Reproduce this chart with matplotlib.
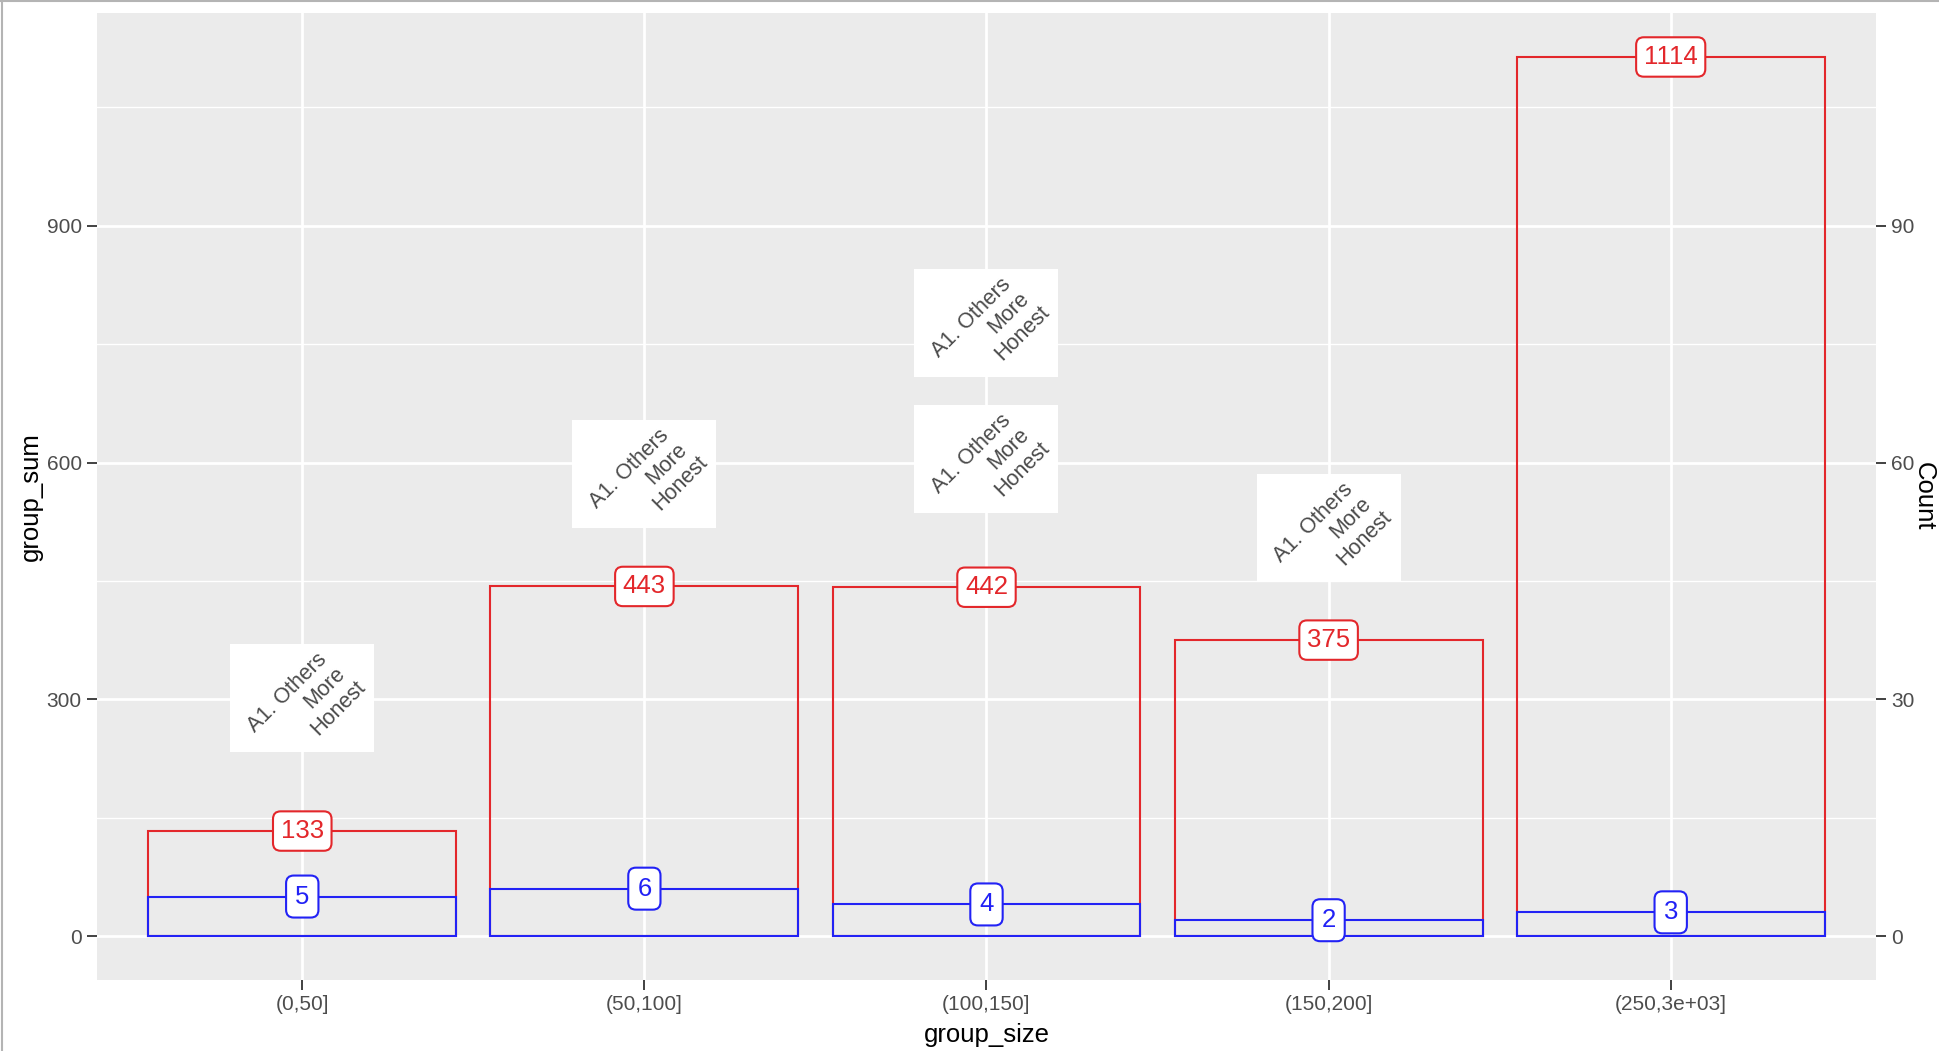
import numpy as np
import matplotlib
matplotlib.use('Agg')
import matplotlib.pyplot as plt
from matplotlib.patches import Rectangle
from matplotlib.lines import Line2D
from matplotlib.transforms import offset_copy

plt.rcParams['font.family'] = ['Liberation Sans', 'DejaVu Sans']

# данные
categories = ['(0,50]', '(50,100]', '(100,150]', '(150,200]', '(250,3e+03]']
group_sum = [133, 443, 442, 375, 1114]
counts = [5, 6, 4, 2, 3]
note_pos = [0, 1, 2, 2, 3]
note_y = [302, 586, 777, 605, 517]
note_lines = ['A1. Others', 'More', 'Honest']

scale = 10  # вторичная ось: Count * 10
red = '#E3272B'
blue = '#2222F5'

fig = plt.figure(figsize=(19.4, 10.51), dpi=100)
ax = fig.add_axes([0.05, 0.0676, 0.917, 0.92])
ax.set_facecolor('#EBEBEB')
for s in ax.spines.values():
    s.set_visible(False)

x = np.arange(len(categories))
ax.bar(x, group_sum, width=0.9, fill=False, edgecolor=red, linewidth=1.5, zorder=3)
ax.set_xlim(-0.6, len(categories) - 0.4)
ymax = max(group_sum)
ax.set_ylim(-0.05 * ymax, 1.05 * ymax)
ax.set_xticks(x)
ax.set_xticklabels(categories)
ax.set_yticks([0, 300, 600, 900])
ax.set_yticks([150, 450, 750, 1050], minor=True)
ax.grid(which='major', color='white', linewidth=2.0, zorder=0)
ax.grid(which='minor', axis='y', color='white', linewidth=1.0, zorder=0)
ax.set_axisbelow(True)
ax.tick_params(axis='both', which='major', length=7, width=1.3, color='#333333',
               labelcolor='#4D4D4D', labelsize=15, pad=4)
ax.tick_params(axis='y', which='minor', length=0)
ax.set_xlabel('group_size', fontsize=18.5, labelpad=6)
ax.set_ylabel('group_sum', fontsize=18.5, labelpad=3)

for xi, v in zip(x, group_sum):
    ax.text(xi, v, str(v), ha='center', va='center', fontsize=18.5, color=red, zorder=6,
            bbox=dict(boxstyle='round,pad=0.3,rounding_size=0.3', facecolor='white',
                      edgecolor=red, linewidth=1.5))

# вторичная ось
ax2 = ax.twinx()
for s in ax2.spines.values():
    s.set_visible(False)
ax2.set_ylim(ax.get_ylim()[0] / scale, ax.get_ylim()[1] / scale)
ax2.bar(x, counts, width=0.9, fill=False, edgecolor=blue, linewidth=1.5, zorder=4)
ax2.set_yticks([0, 30, 60, 90])
ax2.tick_params(axis='y', length=7, width=1.3, color='#333333', labelcolor='#4D4D4D',
                labelsize=15, pad=4)
ax2.set_ylabel('Count', fontsize=18.5, rotation=-90, labelpad=15, va='top')
for xi, c in zip(x, counts):
    ax2.text(xi, c, str(c), ha='center', va='center', fontsize=18.5, color=blue, zorder=6,
             bbox=dict(boxstyle='round,pad=0.35,rounding_size=0.3', facecolor='white',
                       edgecolor=blue, linewidth=1.5))

# повёрнутые подписи на белом фоне (смещения строк в пикселях)
line_off = [(-15, 5), (22, 10), (36, -10)]
box_w, box_h = 144, 108
fig.canvas.draw()
inv = ax2.transData.inverted()
for xi, yi in zip(note_pos, note_y):
    cx, cy = ax2.transData.transform((xi, yi / scale))
    (x0, y0) = inv.transform((cx - box_w / 2, cy - box_h / 2))
    (x1, y1) = inv.transform((cx + box_w / 2, cy + box_h / 2))
    ax2.add_patch(Rectangle((x0, y0), x1 - x0, y1 - y0, facecolor='white',
                            edgecolor='none', zorder=7))
    for line, (dx, dy) in zip(note_lines, line_off):
        tr = offset_copy(ax2.transData, fig=fig, x=dx, y=dy, units='dots')
        ax2.text(xi, yi / scale, line, transform=tr, ha='center', va='center',
                 rotation=45, rotation_mode='anchor', fontsize=15.5,
                 color='#4A4A4A', zorder=8)

# рамка скриншота сверху и слева
fig.add_artist(Line2D([0.0008, 0.0008], [0, 1], color='#B4B4B4', linewidth=1.5))
fig.add_artist(Line2D([0, 1], [0.9992, 0.9992], color='#B4B4B4', linewidth=1.5))

plt.savefig('out.png', dpi=100)
